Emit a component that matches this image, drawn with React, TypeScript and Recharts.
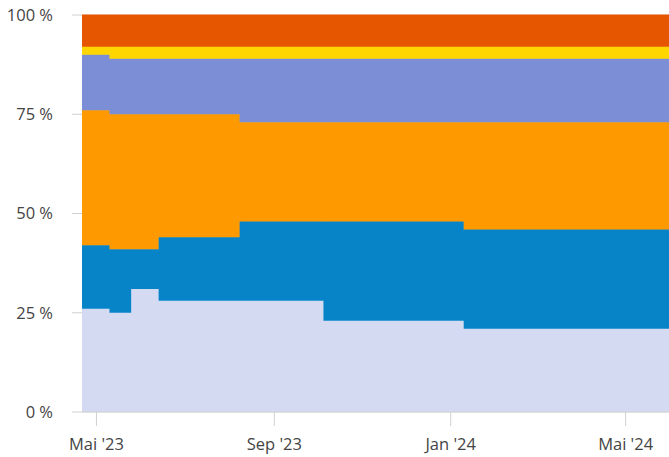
import { AreaChart, Area, XAxis, YAxis, CartesianGrid } from 'recharts';

// step dates (UTC), last entry just extends the final step to the right edge
const dates = [
  '2023-04-21',
  '2023-05-10',
  '2023-05-25',
  '2023-06-13',
  '2023-08-08',
  '2023-10-05',
  '2024-01-10',
  '2024-05-31',
];

// shares in percent, bottom to top
const lavender = [26, 25, 31, 28, 28, 23, 21, 21];
const blue = [16, 16, 10, 16, 20, 25, 25, 25];
const orange = [34, 34, 34, 31, 25, 25, 27, 27];
const periwinkle = [14, 14, 14, 14, 16, 16, 16, 16];
const yellow = [2, 3, 3, 3, 3, 3, 3, 3];
const red = [8, 8, 8, 8, 8, 8, 8, 8];

const xTickDates = ['2023-05-01', '2023-09-01', '2024-01-01', '2024-05-01'];
const yTicks = [0, 25, 50, 75, 100];

const monthNames = ['Jan', 'Feb', 'Mär', 'Apr', 'Mai', 'Jun', 'Jul', 'Aug', 'Sep', 'Okt', 'Nov', 'Dez'];

const toTs = (d: string) => Date.parse(d + 'T00:00:00Z');

const data = dates.map((d, i) => ({
  t: toTs(d),
  lavender: lavender[i],
  blue: blue[i],
  orange: orange[i],
  periwinkle: periwinkle[i],
  yellow: yellow[i],
  red: red[i],
}));

const series = [
  { key: 'lavender', color: '#d3daf2' },
  { key: 'blue', color: '#0784c8' },
  { key: 'orange', color: '#ff9900' },
  { key: 'periwinkle', color: '#7b8ed6' },
  { key: 'yellow', color: '#ffd600' },
  { key: 'red', color: '#e65500' },
];

const fmtMonth = (v: number) => {
  const d = new Date(v);
  return `${monthNames[d.getUTCMonth()]} '${String(d.getUTCFullYear()).slice(2)}`;
};

const tickStyle = { fontSize: 16.5, fill: '#444', fontFamily: '"Open Sans", sans-serif' };

export default function App() {
  return (
    <div style={{ position: 'absolute', left: 0, top: 0 }}>
      <AreaChart width={669} height={457} data={data} margin={{ top: 15, right: 0, bottom: 0, left: 0 }}>
        <CartesianGrid vertical={false} stroke="#e6e6e6" />
        <XAxis
          dataKey="t"
          type="number"
          scale="time"
          domain={[toTs(dates[0]), toTs(dates[dates.length - 1])]}
          ticks={xTickDates.map(toTs)}
          tickFormatter={fmtMonth}
          height={45}
          tickSize={14}
          tickMargin={12}
          stroke="#d0d0d0"
          tick={tickStyle}
          allowDataOverflow
        />
        <YAxis
          domain={[0, 100]}
          ticks={yTicks}
          tickFormatter={(v) => `${v} %`}
          width={82}
          tickSize={10}
          tickMargin={19}
          axisLine={false}
          tickLine={{ stroke: '#d0d0d0' }}
          tick={tickStyle}
        />
        {series.map((s) => (
          <Area
            key={s.key}
            dataKey={s.key}
            stackId="1"
            type="stepAfter"
            fill={s.color}
            fillOpacity={1}
            stroke={s.color}
            strokeWidth={1}
            isAnimationActive={false}
          />
        ))}
      </AreaChart>
    </div>
  );
}
